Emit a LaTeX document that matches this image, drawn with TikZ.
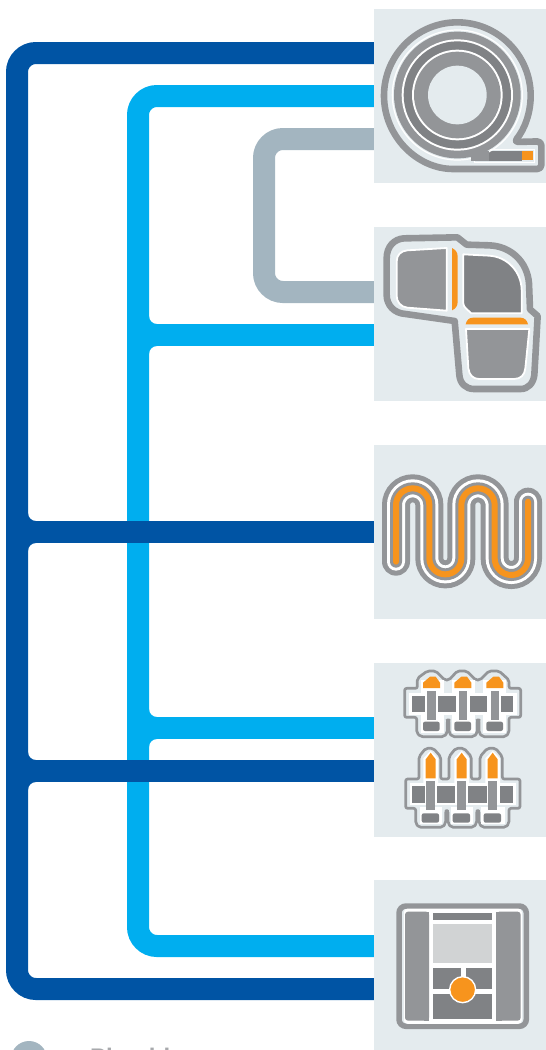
\documentclass[tikz,border=0pt]{standalone}
\usepackage{fontspec}
\setmainfont{Liberation Sans}
\definecolor{pale}{HTML}{E4EBEE}
\definecolor{greyA}{HTML}{939598}
\definecolor{greyD}{HTML}{808285}
\definecolor{greyL}{HTML}{D1D3D4}
\definecolor{hot}{HTML}{F7941D}
\definecolor{pipeD}{HTML}{0054A4}
\definecolor{pipeL}{HTML}{00AEEF}
\definecolor{pipeG}{HTML}{A3B5C0}
\definecolor{labelgrey}{HTML}{A7A9AC}
\tikzset{
 panel/.style={fill=pale,draw=none,inner sep=0pt,outer sep=0pt,minimum width=172pt,minimum height=#1},
 pipe/.style={line width=22pt,rounded corners=19pt},
 frame/.style={draw=greyA,line width=6.6pt,fill=pale,line join=round},
 thinframe/.style={draw=greyA,line width=2.7pt,fill=pale,line join=round,rounded corners=2pt},
 piece/.style={draw=white,line width=1.8pt,fill=greyA,line join=round},
 darkpiece/.style={draw=white,line width=1.8pt,fill=greyD,line join=round},
 hotpiece/.style={fill=hot,draw=none},
 zoomed/.style={shift={#1},x=0.33333pt,y=-0.33333pt},
}
\begin{document}
\begin{tikzpicture}[x=1pt,y=-1pt]
\useasboundingbox (0,0) rectangle (546,1050);
\clip (0,0) rectangle (546,1050);
% panel positions, free ends of pipes
\node[panel=174pt] (p1) at (460,96) {};
\node[panel=174pt] (p2) at (460,314) {};
\node[panel=174pt] (p3) at (460,532) {};
\node[panel=174pt] (p4) at (460,750) {};
\node[panel=170pt] (p5) at (460,965) {};
\coordinate (a1) at (0,53); \coordinate (a2) at (0,532); \coordinate (a3) at (0,771); \coordinate (a4) at (0,989);
\coordinate (b1) at (0,96); \coordinate (b2) at (0,335); \coordinate (b3) at (0,728); \coordinate (b4) at (0,946);
\coordinate (c1) at (0,139); \coordinate (c2) at (0,292);
% grey pipe
\draw[pipe,draw=pipeG] (p1.west |- c1) -- (264,139) -- (264,292) -- (p2.west |- c2);
% light pipe
\draw[pipe,draw=pipeL] (p1.west |- b1) -- (138,96) -- (138,946) -- (p5.west |- b4);
\draw[line width=22pt,draw=pipeL] (138,335) -- (p2.west |- b2);
\draw[line width=22pt,draw=pipeL] (138,728) -- (p4.west |- b3);
\foreach \yy in {335,728}{
 \fill[pipeL] (149,\yy-11) -- (149,\yy-19) arc[start angle=180,end angle=90,radius=8] -- cycle;
 \fill[pipeL] (149,\yy+11) -- (149,\yy+19) arc[start angle=180,end angle=270,radius=8] -- cycle;
}
% dark pipe
\draw[pipe,draw=pipeD] (p1.west |- a1) -- (17,53) -- (17,989) -- (p5.west |- a4);
\draw[line width=22pt,draw=pipeD] (17,532) -- (p3.west |- a2);
\draw[line width=22pt,draw=pipeD] (17,771) -- (p4.west |- a3);
\foreach \yy in {532,771}{
 \fill[pipeD] (28,\yy-11) -- (28,\yy-19) arc[start angle=180,end angle=90,radius=8] -- cycle;
 \fill[pipeD] (28,\yy+11) -- (28,\yy+19) arc[start angle=180,end angle=270,radius=8] -- cycle;
}
% panels again over pipe ends
\fill[pale] (p1.south west) rectangle (p1.north east);
\fill[pale] (p2.south west) rectangle (p2.north east);
\fill[pale] (p3.south west) rectangle (p3.north east);
\fill[pale] (p4.south west) rectangle (p4.north east);
\fill[pale] (p5.south west) rectangle (p5.north east);
% icon 1: hose reel
\begin{scope}[zoomed={(374,0)}]
 \draw[frame,rounded corners=4pt] (250,507) arc[start angle=90,end angle=399.2,radius=220] -- (502,424) -- (502,507) -- cycle;
 \draw[white,line width=1pt,fill=pale] (300,447) rectangle (480,486);
 \fill[greyD] (290,452) rectangle (445,482);
 \fill[hot] (444,452) rectangle (477,481);
 \draw[white,line width=1.2pt] (250,285) circle[radius=195];
 \fill[greyA] (250,285) circle[radius=190];
 \fill[greyA] (290,452) rectangle (345,482);
 \fill[white] (250,285) circle[radius=167];
 \fill[greyD] (250,285) circle[radius=161];
 \fill[white] (250,285) circle[radius=136];
 \fill[greyA] (250,285) circle[radius=130];
 \fill[pale] (250,285) circle[radius=88];
\end{scope}
% icon 2: elbow
\begin{scope}[zoomed={(374,220)}]
 \draw[frame] (38,115) .. controls (38,80) and (60,57) .. (90,55) -- (250,52) -- (278,74) -- (345,76)
   .. controls (410,78) and (460,125) .. (465,190) -- (468,268) -- (491,288) -- (481,465)
   .. controls (478,490) and (462,507) .. (440,507) -- (300,507)
   .. controls (275,507) and (258,490) .. (256,465) -- (242,303) -- (95,282)
   .. controls (60,280) and (38,255) .. (38,225) -- cycle;
 \draw[piece] (68,125) .. controls (68,105) and (80,93) .. (100,91) -- (218,84) -- (218,272) -- (100,263)
   .. controls (80,261) and (68,245) .. (68,228) -- cycle;
 \draw[hotpiece] (234,84) .. controls (245,90) and (251,97) .. (251,110) -- (251,245)
   .. controls (251,258) and (245,266) .. (234,271) -- cycle;
 \draw[darkpiece] (268,103) -- (345,107) .. controls (400,110) and (442,155) .. (443,210) -- (443,280) -- (292,280)
   .. controls (280,268) and (268,262) .. (268,250) -- cycle;
 \draw[hotpiece] (275,313) .. controls (278,300) and (285,293) .. (297,293) -- (440,293)
   .. controls (452,293) and (460,302) .. (462,313) -- cycle;
 \draw[piece] (276,327) -- (466,327) -- (454,445) .. controls (452,465) and (440,477) .. (420,477) -- (315,477)
   .. controls (298,477) and (285,465) .. (283,445) -- cycle;
\end{scope}
% icon 3: heating coil
\begin{scope}[zoomed={(374,440)}]
 \def\coil{(66,365) -- (66,195) arc[start angle=180,end angle=360,radius=50] -- (166,355)
   arc[start angle=180,end angle=0,radius=48] -- (262,195)
   arc[start angle=180,end angle=360,radius=50] -- (362,355)
   arc[start angle=180,end angle=0,radius=50] -- (462,185)}
 \draw[greyA,line width=28pt,line cap=round] \coil;
 \draw[white,line width=18pt,line cap=round] \coil;
 \draw[greyA,line width=12pt,line cap=round] \coil;
 \draw[hot,line width=6pt,line cap=round] \coil;
\end{scope}
% icon 4: upper manifold
\begin{scope}[zoomed={(394,660)}]
 \draw[thinframe] (32,85) -- (70,85) -- (70,55) -- (100,33) -- (125,33) -- (152,60) -- (165,60) -- (190,33) -- (218,33)
   -- (245,60) -- (258,60) -- (285,33) -- (315,33) -- (345,60) -- (345,85) -- (380,85) -- (380,172) -- (345,172)
   -- (345,218) -- (335,230) -- (265,230) -- (255,218) -- (255,180) -- (250,180) -- (250,218) -- (240,230)
   -- (175,230) -- (165,218) -- (165,180) -- (160,180) -- (160,218) -- (150,230) -- (80,230) -- (68,218)
   -- (68,172) -- (32,172) -- cycle;
 \fill[white] (45,98) rectangle (368,165);
 \fill[white] (80,60) rectangle (150,220);
 \fill[white] (175,60) rectangle (242,220);
 \fill[white] (268,60) rectangle (335,220);
 \fill[greyD] (55,107) rectangle (92,157);
 \fill[greyD] (132,107) rectangle (185,157);
 \fill[greyD] (228,107) rectangle (280,157);
 \fill[greyD] (320,107) rectangle (358,157);
 \foreach \dx in {0,94,190}{
  \fill[greyA] (100+\dx,92) rectangle (125+\dx,180);
  \fill[hot] (87+\dx,84) -- (87+\dx,68) -- (108+\dx,50) -- (125+\dx,50) -- (138+\dx,68) -- (138+\dx,84) -- cycle;
  \fill[greyD,rounded corners=2pt] (87+\dx,185) rectangle (137+\dx,213);
 }
\end{scope}
% icon 4: lower manifold
\begin{scope}[zoomed={(394,660)}]
 \draw[thinframe] (35,357) -- (75,357) -- (75,290) -- (95,265) -- (118,265) -- (140,290) -- (140,357) -- (165,357)
   -- (165,290) -- (185,265) -- (210,265) -- (232,290) -- (232,357) -- (258,357) -- (258,290) -- (280,265) -- (305,265)
   -- (325,290) -- (325,357) -- (378,357) -- (378,445) -- (345,445) -- (345,490) -- (335,502) -- (265,502) -- (255,490)
   -- (255,452) -- (248,452) -- (248,490) -- (238,502) -- (172,502) -- (162,490) -- (162,452) -- (155,452) -- (155,490)
   -- (145,502) -- (75,502) -- (65,490) -- (65,445) -- (35,445) -- cycle;
 \fill[white] (47,369) rectangle (366,436);
 \fill[white] (77,440) rectangle (145,492);
 \fill[white] (170,440) rectangle (238,492);
 \fill[white] (262,440) rectangle (332,492);
 \fill[greyD] (55,378) rectangle (92,428);
 \fill[greyD] (130,378) rectangle (182,428);
 \fill[greyD] (222,378) rectangle (278,428);
 \fill[greyD] (318,378) rectangle (356,428);
 \foreach \dx in {0,93,186}{
  \fill[white] (88+\dx,295) -- (110+\dx,272) -- (132+\dx,295) -- (132+\dx,370) -- (88+\dx,370) -- cycle;
  \fill[greyA] (97+\dx,362) rectangle (122+\dx,450);
  \fill[hot] (95+\dx,355) -- (95+\dx,298) -- (105+\dx,285) -- (110+\dx,278) -- (115+\dx,285) -- (125+\dx,298) -- (125+\dx,355) -- cycle;
  \fill[greyD,rounded corners=2pt] (83+\dx,460) rectangle (135+\dx,488);
 }
\end{scope}
% icon 5: control box
\begin{scope}[zoomed={(374,875)}]
 \draw[draw=greyA,line width=5.5pt,fill=pale,rounded corners=7pt] (75,93) rectangle (457,454);
 \draw[draw=white,line width=1.6pt,fill=white,rounded corners=3pt] (92,103) rectangle (441,444);
 \fill[greyA,rounded corners=3pt] (93,110) rectangle (165,437);
 \fill[greyA,rounded corners=3pt] (367,110) rectangle (440,437);
 \fill[greyA] (150,110) rectangle (165,437);
 \fill[greyA] (367,110) rectangle (385,437);
 \fill[greyD] (178,114) rectangle (354,134);
 \fill[greyL] (178,148) rectangle (354,265);
 \fill[greyD] (178,280) rectangle (260,342);
 \fill[greyD] (275,280) rectangle (354,342);
 \fill[greyD] (178,356) rectangle (354,433);
 \draw[white,line width=1.4pt,fill=hot] (266,344) circle[radius=39];
\end{scope}
% cut-off label at the foot
\node[circle,fill=pipeG,inner sep=0pt,minimum size=36pt] (legend) at (29,1059) {};
\node[anchor=base west,inner sep=0pt,text=labelgrey,font=\bfseries\fontsize{24}{24}\selectfont] (plumbing) at (90,1065) {Plumbing};
\end{tikzpicture}
\end{document}
